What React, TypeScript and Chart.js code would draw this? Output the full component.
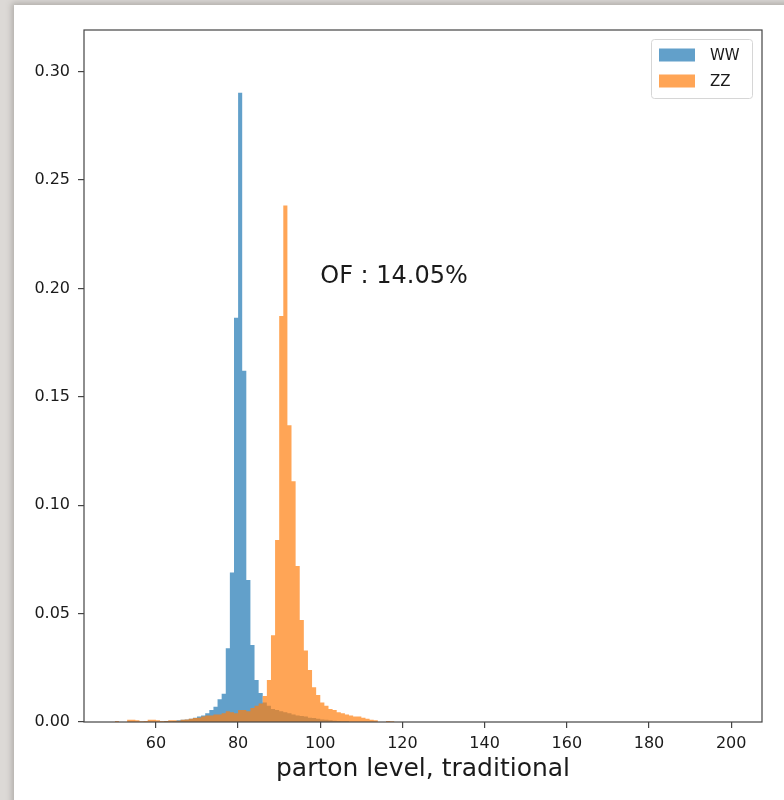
import React, { useEffect, useRef } from "react";
import { Chart, registerables } from "chart.js";

Chart.register(...registerables);

// Histogram bins: width 1, left edges starting at 50 (bins beyond 119 are empty)
const BIN_START = 50;
const BIN_WIDTH = 1;

// Normalised counts per bin (density), left edges 50, 51, ..., 119
const WW_VALUES = [
  0, 0, 0, 0, 0, 0, 0, 0, 0, 0,
  0, 0, 0.0005, 0.0003, 0.0005, 0.0008, 0.001, 0.0012, 0.0015, 0.002,
  0.0025, 0.003, 0.004, 0.0055, 0.007, 0.0105, 0.013, 0.034, 0.069, 0.1865,
  0.2903, 0.162, 0.0655, 0.0355, 0.0194, 0.0134, 0.009, 0.0075, 0.006, 0.0055,
  0.005, 0.0045, 0.004, 0.0035, 0.003, 0.0028, 0.0025, 0.002, 0.0018, 0.0015,
  0.0012, 0.001, 0.0008, 0.0006, 0.0005, 0.0004, 0.0003, 0, 0, 0,
  0, 0, 0, 0, 0, 0, 0, 0, 0, 0,
];

const ZZ_VALUES = [
  0.0005, 0, 0, 0.001, 0.001, 0.0008, 0.0003, 0.0005, 0.001, 0.001,
  0.0008, 0.0005, 0.0005, 0.0008, 0.0008, 0.0006, 0.001, 0.0012, 0.0015, 0.0018,
  0.002, 0.0025, 0.003, 0.003, 0.0035, 0.0035, 0.004, 0.005, 0.0045, 0.004,
  0.0055, 0.0055, 0.005, 0.0065, 0.0075, 0.0085, 0.012, 0.0194, 0.04, 0.084,
  0.1873, 0.2382, 0.1369, 0.111, 0.072, 0.047, 0.033, 0.024, 0.016, 0.0125,
  0.009, 0.0075, 0.006, 0.0055, 0.0045, 0.004, 0.0035, 0.003, 0.0025, 0.0025,
  0.002, 0.0015, 0.001, 0.0008, 0, 0, 0.0005, 0.0003, 0, 0,
];

const SERIES_LABELS = ["WW", "ZZ"];
const SERIES_COLORS = ["rgba(31,119,180,0.7)", "rgba(255,127,14,0.7)"];

const X_TICKS = [60, 80, 100, 120, 140, 160, 180, 200];
const Y_TICKS = [0, 0.05, 0.1, 0.15, 0.2, 0.25, 0.3];
const X_RANGE = [42.5, 207.5];
const Y_RANGE = [0, 0.3192];

const X_LABEL = "parton level, traditional";
const NOTE_TEXT = "OF : 14.05%";
const NOTE_POS = { x: 100, y: 0.2025 };

const FONT = "'DejaVu Sans', sans-serif";
const INK = "#1a1a1a";
const SPINE = "#444";

// Step outline of a histogram: one point per left bin edge, plus the closing edge
function stepPoints(values: number[]) {
  const pts = values.map((v, i) => ({ x: BIN_START + i * BIN_WIDTH, y: v }));
  pts.push({ x: BIN_START + values.length * BIN_WIDTH, y: 0 });
  return pts;
}

const framePlugin = {
  id: "frame",
  afterDraw(chart: any) {
    const { ctx, chartArea: a, scales } = chart;
    ctx.save();
    ctx.strokeStyle = SPINE;
    ctx.lineWidth = 1.2;
    ctx.strokeRect(a.left, a.top, a.right - a.left, a.bottom - a.top);

    // annotation text
    ctx.fillStyle = INK;
    ctx.font = `24px ${FONT}`;
    ctx.textAlign = "left";
    ctx.textBaseline = "alphabetic";
    ctx.fillText(NOTE_TEXT, scales.x.getPixelForValue(NOTE_POS.x), scales.y.getPixelForValue(NOTE_POS.y));

    // legend box in the upper-right corner
    const boxW = 101;
    const boxH = 59;
    const bx = a.right - 10 - boxW;
    const by = a.top + 9;
    ctx.fillStyle = "rgba(255,255,255,0.8)";
    ctx.strokeStyle = "#d6d6d6";
    ctx.lineWidth = 1;
    ctx.beginPath();
    (ctx as any).roundRect(bx + 0.5, by + 0.5, boxW, boxH, 3);
    ctx.fill();
    ctx.stroke();
    ctx.font = `15px ${FONT}`;
    ctx.textBaseline = "middle";
    SERIES_LABELS.forEach((label, i) => {
      const cy = by + 16 + i * 26;
      ctx.fillStyle = SERIES_COLORS[i];
      ctx.fillRect(bx + 8, cy - 6.5, 36, 13);
      ctx.fillStyle = INK;
      ctx.fillText(label, bx + 59, cy + 1);
    });
    ctx.restore();
  },
};

export default function App() {
  const canvasRef = useRef<HTMLCanvasElement | null>(null);

  useEffect(() => {
    const canvas = canvasRef.current;
    if (!canvas) return;
    const chart = new Chart(canvas, {
      type: "line",
      data: {
        datasets: [WW_VALUES, ZZ_VALUES].map((vals, i) => ({
          label: SERIES_LABELS[i],
          data: stepPoints(vals),
          // hold each bin's value from its left edge to the next edge
          stepped: "before" as const,
          fill: "origin",
          backgroundColor: SERIES_COLORS[i],
          borderWidth: 0,
          borderColor: "rgba(0,0,0,0)",
          pointRadius: 0,
          pointHoverRadius: 0,
          order: 1 - i,
        })),
      },
      options: {
        animation: false,
        responsive: false,
        devicePixelRatio: 1,
        events: [],
        layout: { padding: { top: 30, right: 22, left: 0, bottom: 0 } },
        plugins: {
          legend: { display: false },
          tooltip: { enabled: false },
        },
        scales: {
          x: {
            type: "linear",
            min: X_RANGE[0],
            max: X_RANGE[1],
            afterBuildTicks: (s: any) => {
              s.ticks = X_TICKS.map((v) => ({ value: v }));
            },
            afterFit: (s: any) => {
              s.height = 78;
            },
            border: { display: false },
            grid: { drawOnChartArea: false, drawTicks: true, tickLength: 6, tickColor: SPINE, lineWidth: 1.2 },
            ticks: { color: INK, font: { family: FONT, size: 16 }, padding: 6, maxRotation: 0, autoSkip: false },
            title: {
              display: true,
              text: X_LABEL,
              color: INK,
              font: { family: FONT, size: 25 },
              padding: { top: 2, bottom: 16 },
            },
          },
          y: {
            type: "linear",
            min: Y_RANGE[0],
            max: Y_RANGE[1],
            afterBuildTicks: (s: any) => {
              s.ticks = Y_TICKS.map((v) => ({ value: v }));
            },
            afterFit: (s: any) => {
              s.width = 84;
            },
            border: { display: false },
            grid: { drawOnChartArea: false, drawTicks: true, tickLength: 6, tickColor: SPINE, lineWidth: 1.2 },
            ticks: {
              color: INK,
              font: { family: FONT, size: 16 },
              padding: 8,
              autoSkip: false,
              callback: (v: any) => Number(v).toFixed(2),
            },
          },
        },
      },
      plugins: [framePlugin],
    });
    return () => chart.destroy();
  }, []);

  return (
    <div
      style={{
        position: "fixed",
        left: 0,
        top: 0,
        width: 784,
        height: 800,
        overflow: "hidden",
        background: "#dcd9d6",
      }}
    >
      <div
        style={{
          position: "absolute",
          left: 14,
          top: 5,
          width: 790,
          height: 820,
          background: "#ffffff",
          boxShadow: "0 0 6px 2px rgba(90,85,80,0.35)",
        }}
      />
      <canvas
        ref={canvasRef}
        width={784}
        height={800}
        style={{ position: "absolute", left: 0, top: 0, width: 784, height: 800 }}
      />
    </div>
  );
}
